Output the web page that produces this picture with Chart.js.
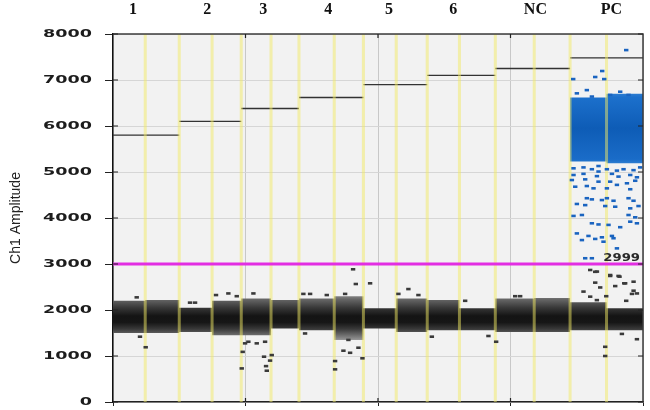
<!DOCTYPE html>
<html>
<head>
<meta charset="utf-8">
<title>Ch1 Amplitude</title>
<script src="https://cdn.jsdelivr.net/npm/chart.js@4.4.1/dist/chart.umd.min.js"></script>
<style>
  html, body { margin: 0; padding: 0; background: #fff; }
  #wrap { width: 650px; height: 410px; }
</style>
</head>
<body>
<div id="wrap"><canvas id="ampChart"></canvas></div>
<script>
// samples shown across the top
const sampleNames = ['1', '2', '3', '4', '5', '6', 'NC', 'PC'];
const sampleLabelAt = [3300, 15500, 24700, 35400, 45400, 56000, 69500, 82000];
// event number where each sample starts/ends, and its gate line
const sampleEdges = [0, 10900, 21100, 30600, 41200, 51700, 62900, 75200, 87200];
const sampleGates = [5800, 6100, 6380, 6620, 6900, 7100, 7250, 7480];

// every sample is two wells -> 16 wells
const wellEdges = [0, 5300, 10900, 16300, 21100, 26000, 30600, 36400, 41200, 46600, 51700, 57000, 62900, 69300, 75200, 81200, 87200];
// negative droplet cloud (top / bottom of the band per well)
const negTop = [2200, 2220, 2050, 2200, 2250, 2220, 2250, 2300, 2040, 2250, 2220, 2040, 2250, 2260, 2170, 2040];
const negBottom = [1500, 1500, 1520, 1450, 1450, 1600, 1560, 1350, 1600, 1520, 1560, 1560, 1520, 1520, 1560, 1560];

// positive cloud, PC wells only
const posEdges = [75200, 81200, 87200];
const posTop = [6620, 6700];
const posBottom = [5230, 5190];

const threshold = 2999;

// single droplets outside the dense bands [event, amplitude]
const negDroplets = [
  [5380, 1190], [4440, 1420], [3900, 2275], [12670, 2160], [13500, 2160], [16950, 2325], [18980, 2360], [20360, 2300],
  [21340, 1090], [21180, 730], [21730, 1275], [22270, 1310], [23650, 1275], [25020, 1310], [24850, 985], [25180, 780],
  [25300, 680], [25840, 900], [26120, 1020], [23100, 2360],
  [39500, 2885], [39950, 2565], [42300, 2580], [36540, 890], [36540, 710], [41040, 950], [37910, 1115], [39010, 1070],
  [40380, 1180], [38730, 1350], [31600, 1490], [52460, 1420], [31320, 2350], [32430, 2350], [35170, 2325], [38190, 2350],
  [48600, 2455], [46960, 2350], [50250, 2325],
  [61770, 1435], [63040, 1310], [57940, 2200], [66170, 2300], [66990, 2300],
  [80980, 1200], [80980, 1000], [83730, 1480], [86200, 1365],
  [77410, 2400], [79340, 2595], [80160, 2490], [82630, 2520], [84110, 2580], [85380, 2350], [85650, 2420], [84440, 2200],
  [81150, 2300], [79610, 2215], [78510, 2870], [79340, 2830], [81800, 2760], [83340, 2725], [84270, 2580], [85650, 2615],
  [78510, 2290], [86200, 2360], [79620, 2835], [81800, 2740], [83170, 2740]
];
const posDroplets = [
  [84440, 7650], [80490, 7195], [75720, 7020], [79340, 7065], [80820, 7020],
  [76320, 6710], [77960, 6780], [78790, 6640], [81800, 6675], [83450, 6745], [84820, 6675],
  [75770, 5080], [77410, 5100], [78790, 5060], [79880, 5130], [79880, 5010], [81260, 5060], [82910, 5030], [84000, 5060],
  [85640, 5040], [86730, 5100], [75770, 4935], [77410, 4960], [79620, 4910], [82090, 4960], [83170, 4900], [85100, 4935],
  [86200, 4885], [75500, 4825], [77690, 4840], [79880, 4790], [81800, 4790], [84560, 4755], [85920, 4810],
  [76050, 4680], [77960, 4695], [79060, 4645], [81260, 4645], [82910, 4720], [85100, 4625],
  [77960, 4430], [78790, 4405], [80440, 4390], [81260, 4430], [82350, 4375], [84820, 4430], [85640, 4375],
  [76320, 4305], [77690, 4280], [80980, 4260], [82630, 4245], [85100, 4210], [86460, 4260],
  [75770, 4045], [77150, 4065], [84820, 4065], [85920, 4015],
  [78790, 3885], [79880, 3860], [81530, 3850], [83450, 3800], [85100, 3920], [86200, 3885],
  [76320, 3665], [78230, 3610], [80440, 3580], [82090, 3610], [77150, 3520], [79340, 3545], [80700, 3485], [82350, 3560],
  [82910, 3340], [77690, 3125], [78790, 3125]
];

// one value per well, held until the next edge
function stepSeries(edges, vals) {
  const pts = vals.map((v, i) => ({ x: edges[i], y: v }));
  pts.push({ x: edges[edges.length - 1], y: vals[vals.length - 1] });
  return pts;
}

function toPoints(list) {
  return list.map(p => ({ x: p[0], y: p[1] }));
}

// yellow well separators (inner edges only)
const wellLines = [];
wellEdges.slice(1, -1).forEach(x => {
  wellLines.push({ x: x, y: 0 }, { x: x, y: 8000 }, { x: x, y: null });
});

const gateLines = [];
sampleGates.forEach((g, i) => {
  gateLines.push({ x: sampleEdges[i], y: g }, { x: sampleEdges[i + 1], y: g }, { x: sampleEdges[i + 1], y: null });
});

function negFill(context) {
  const chart = context.chart;
  const y = chart.scales.y;
  if (!chart.chartArea || !y) return '#333';
  const g = chart.ctx.createLinearGradient(0, y.getPixelForValue(2350), 0, y.getPixelForValue(1350));
  g.addColorStop(0, '#969696');
  g.addColorStop(0.12, '#666');
  g.addColorStop(0.3, '#383838');
  g.addColorStop(0.48, '#141414');
  g.addColorStop(0.62, '#161616');
  g.addColorStop(0.76, '#383838');
  g.addColorStop(0.88, '#666');
  g.addColorStop(1, '#969696');
  return g;
}

function posFill(context) {
  const chart = context.chart;
  const y = chart.scales.y;
  if (!chart.chartArea || !y) return '#1565c0';
  const g = chart.ctx.createLinearGradient(0, y.getPixelForValue(6750), 0, y.getPixelForValue(5150));
  g.addColorStop(0, '#3584d4');
  g.addColorStop(0.08, '#1c70cc');
  g.addColorStop(0.5, '#0e5cb6');
  g.addColorStop(0.92, '#1a6cc8');
  g.addColorStop(1, '#3584d4');
  return g;
}

const decor = {
  id: 'decor',
  beforeDraw(chart) {
    const { ctx, chartArea: a } = chart;
    ctx.save();
    ctx.fillStyle = '#f2f2f2';
    ctx.fillRect(a.left, a.top, a.right - a.left, a.bottom - a.top);
    ctx.restore();
  },
  afterDraw(chart) {
    const { ctx, chartArea: a, scales } = chart;
    const y = scales.y, x = scales.x;
    ctx.save();

    // frame top and right
    ctx.strokeStyle = '#3c3c3c';
    ctx.lineWidth = 1.5;
    ctx.beginPath();
    ctx.moveTo(a.left, a.top);
    ctx.lineTo(a.right, a.top);
    ctx.lineTo(a.right, a.bottom);
    ctx.stroke();

    // small inner ticks
    ctx.strokeStyle = '#222';
    ctx.lineWidth = 1.2;
    ctx.beginPath();
    y.ticks.forEach(t => {
      const py = y.getPixelForValue(t.value);
      ctx.moveTo(a.left, py); ctx.lineTo(a.left + 5, py);
      ctx.moveTo(a.right - 5, py); ctx.lineTo(a.right, py);
    });
    x.ticks.forEach(t => {
      if (t.value <= 0 || t.value >= x.max) return;
      const px = x.getPixelForValue(t.value);
      ctx.moveTo(px, a.top); ctx.lineTo(px, a.top + 4);
      ctx.moveTo(px, a.bottom); ctx.lineTo(px, a.bottom - 4);
    });
    ctx.stroke();

    // y tick labels, wide bold like the original
    ctx.fillStyle = '#1c1c1c';
    ctx.font = 'bold 11px "DejaVu Sans"';
    ctx.textAlign = 'right';
    ctx.textBaseline = 'middle';
    y.ticks.forEach(t => {
      ctx.save();
      ctx.translate(a.left - 21, y.getPixelForValue(t.value));
      ctx.scale(1.6, 1);
      ctx.fillText(String(t.value), 0, 0);
      ctx.restore();
    });

    // threshold value
    ctx.fillStyle = '#2a2a2a';
    ctx.save();
    ctx.translate(a.right - 3, y.getPixelForValue(threshold) - 6);
    ctx.scale(1.2, 1);
    ctx.fillText(String(threshold), 0, 0);
    ctx.restore();

    ctx.restore();
  }
};

new Chart(document.getElementById('ampChart'), {
  type: 'line',
  data: {
    datasets: [
      {
        label: 'threshold',
        data: [{ x: 0, y: threshold }, { x: sampleEdges[sampleEdges.length - 1], y: threshold }],
        borderColor: '#e22ee2',
        borderWidth: 3,
        pointRadius: 0,
        order: 0
      },
      {
        label: 'positive droplets',
        data: toPoints(posDroplets),
        showLine: false,
        pointStyle: 'line',
        pointRadius: 2.2,
        pointBorderWidth: 2.6,
        pointBorderColor: '#1a64c0',
        order: 1
      },
      {
        label: 'negative droplets',
        data: toPoints(negDroplets),
        showLine: false,
        pointStyle: 'line',
        pointRadius: 2.2,
        pointBorderWidth: 2.6,
        pointBorderColor: '#3a3a3a',
        order: 1
      },
      {
        label: 'wells',
        data: wellLines,
        borderColor: 'rgba(242, 234, 100, 0.5)',
        borderWidth: 3,
        pointRadius: 0,
        spanGaps: false,
        order: 2
      },
      {
        label: 'gates',
        data: gateLines,
        borderColor: '#333',
        borderWidth: 1.3,
        pointRadius: 0,
        spanGaps: false,
        order: 3
      },
      {
        label: 'pos top',
        data: stepSeries(posEdges, posTop),
        stepped: 'before',
        borderWidth: 0,
        pointRadius: 0,
        fill: false,
        order: 4
      },
      {
        label: 'pos bottom',
        data: stepSeries(posEdges, posBottom),
        stepped: 'before',
        borderWidth: 0,
        pointRadius: 0,
        fill: '-1',
        backgroundColor: posFill,
        order: 4
      },
      {
        label: 'neg top',
        data: stepSeries(wellEdges, negTop),
        stepped: 'before',
        borderWidth: 0,
        pointRadius: 0,
        fill: false,
        order: 5
      },
      {
        label: 'neg bottom',
        data: stepSeries(wellEdges, negBottom),
        stepped: 'before',
        borderWidth: 0,
        pointRadius: 0,
        fill: '-1',
        backgroundColor: negFill,
        order: 5
      }
    ]
  },
  options: {
    responsive: true,
    maintainAspectRatio: false,
    animation: false,
    layout: { padding: { right: 7 } },
    plugins: { legend: { display: false }, tooltip: { enabled: false } },
    scales: {
      x: {
        type: 'linear',
        position: 'bottom',
        min: 0,
        max: 87200,
        ticks: { display: false, stepSize: 20000 },
        grid: { color: '#c8c8c8', tickLength: 4, tickColor: '#222' },
        border: { color: '#222', width: 1.5 },
        afterFit(s) { s.height = 8; }
      },
      xTop: {
        type: 'linear',
        position: 'top',
        min: 0,
        max: 87200,
        afterBuildTicks(s) { s.ticks = sampleLabelAt.map(v => ({ value: v })); },
        ticks: {
          autoSkip: false,
          maxRotation: 0,
          padding: 15,
          color: '#111',
          font: { family: '"Liberation Serif", "Times New Roman", serif', size: 16, weight: 'bold' },
          callback: (v, i) => sampleNames[i]
        },
        grid: { display: false, drawTicks: false },
        border: { display: false },
        afterFit(s) { s.height = 34; }
      },
      y: {
        min: 0,
        max: 8000,
        ticks: { display: false, stepSize: 1000 },
        grid: { color: '#d6d6d6', tickLength: 8, tickColor: '#222' },
        border: { color: '#111', width: 1.5 },
        title: {
          display: true,
          text: 'Ch1 Amplitude',
          color: '#222',
          padding: { top: 8, bottom: 0 },
          font: { family: '"Liberation Sans Narrow", "Liberation Sans", Arial, sans-serif', size: 14 }
        },
        afterFit(s) { s.width = 113; }
      }
    }
  },
  plugins: [decor]
});
</script>
</body>
</html>
